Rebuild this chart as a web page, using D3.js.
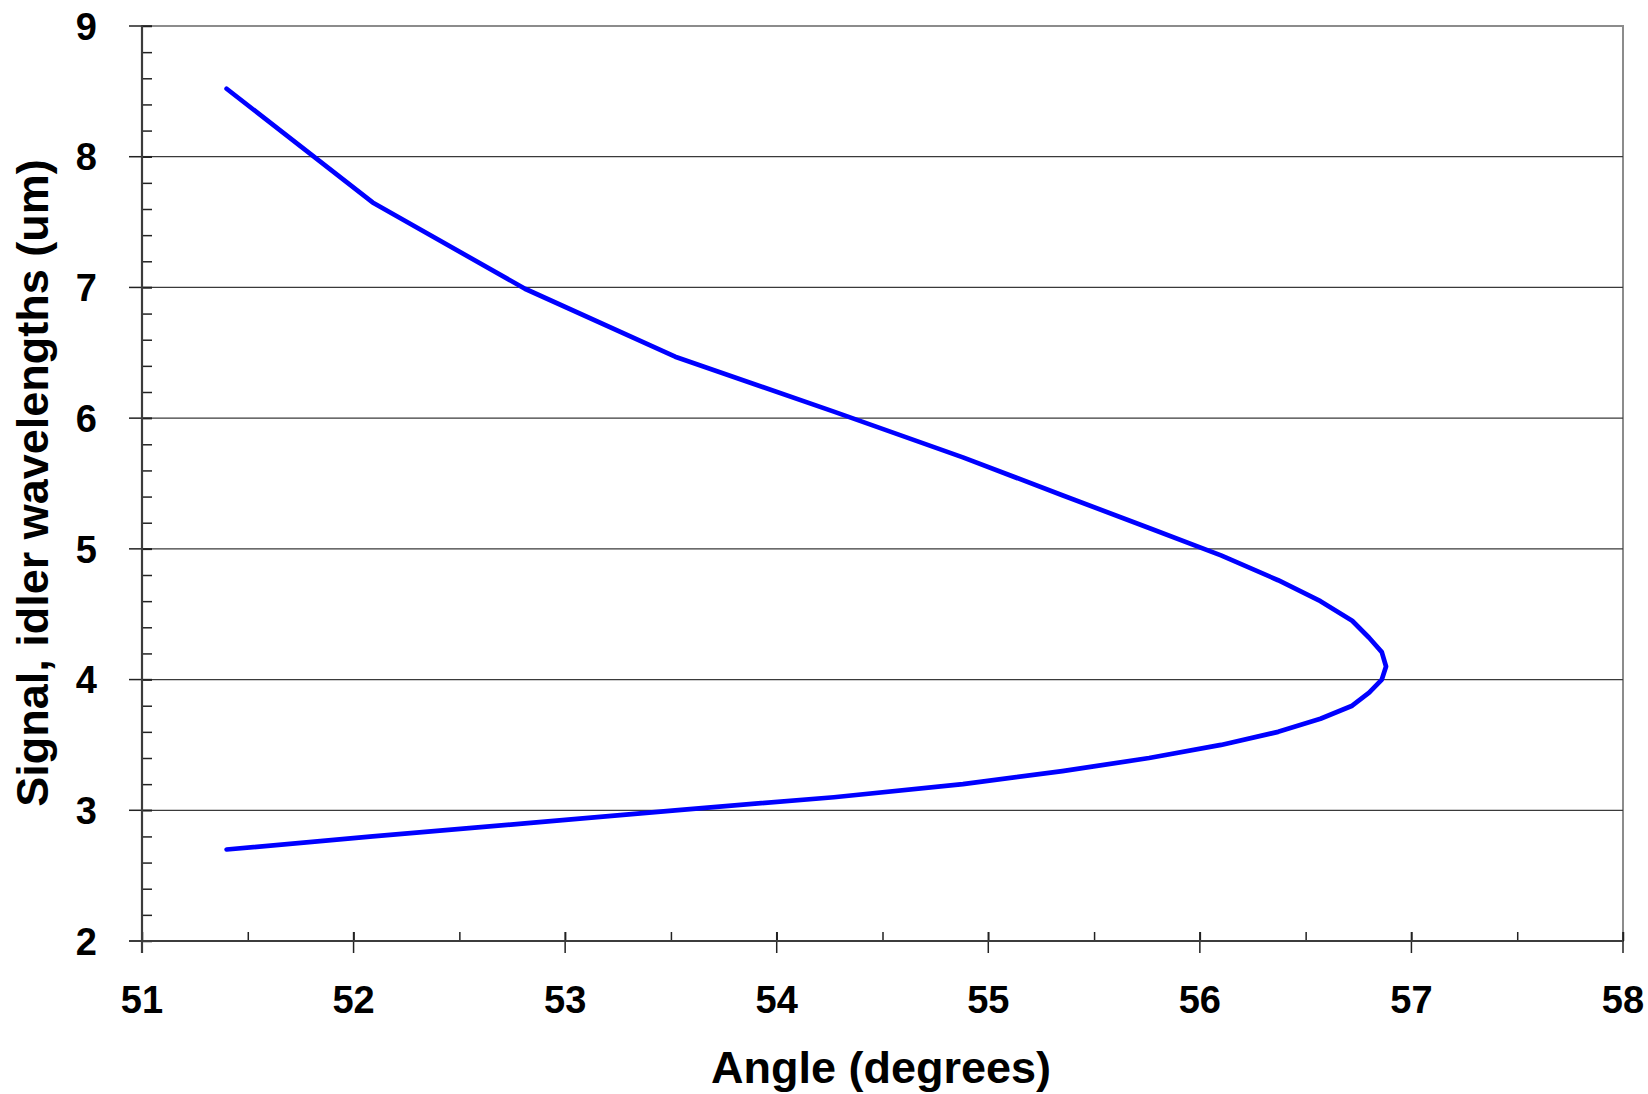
<!DOCTYPE html>
<html>
<head>
<meta charset="utf-8">
<script src="https://cdn.jsdelivr.net/npm/d3@7"></script>
<style>
  html, body { margin: 0; padding: 0; background: #fff; }
  svg { display: block; }
  text { font-family: "Liberation Sans", Arial, sans-serif; font-weight: bold; fill: #000; }
</style>
</head>
<body>
<svg id="chart" width="1648" height="1094"></svg>
<script>
// ---- data ----
const signalWavelengths = [2.7, 2.8, 2.9, 3.0, 3.1, 3.2, 3.3, 3.4, 3.5, 3.6, 3.7, 3.8, 3.9, 4.0, 4.1];
const idlerWavelengths  = [8.52, 7.65, 6.99, 6.47, 6.05, 5.70, 5.41, 5.16, 4.95, 4.76, 4.60, 4.45, 4.32, 4.21, 4.10];
const angles            = [51.40, 52.09, 52.81, 53.52, 54.27, 54.88, 55.35, 55.76, 56.10, 56.37, 56.57, 56.72, 56.80, 56.86, 56.88];
const xTicks = [51, 52, 53, 54, 55, 56, 57, 58];
const yTicks = [2, 3, 4, 5, 6, 7, 8, 9];
const xTitle = "Angle (degrees)";
const yTitle = "Signal, idler wavelengths (um)";

// ---- layout ----
const plot = { left: 142, right: 1623, top: 26, bottom: 941 };

const svg = d3.select("#chart");
const x = d3.scaleLinear().domain([51, 58]).range([plot.left, plot.right]);
const y = d3.scaleLinear().domain([2, 9]).range([plot.bottom, plot.top]);

// plot area border (top/right gray)
svg.append("rect")
  .attr("x", plot.left).attr("y", plot.top)
  .attr("width", plot.right - plot.left).attr("height", plot.bottom - plot.top)
  .attr("fill", "none").attr("stroke", "#8c8c8c").attr("stroke-width", 2);

// gridlines
svg.append("g").selectAll("line")
  .data(yTicks.filter(v => v !== 2 && v !== 9))
  .join("line")
  .attr("x1", plot.left).attr("x2", plot.right)
  .attr("y1", d => y(d)).attr("y2", d => y(d))
  .attr("stroke", "#3a3a3a").attr("stroke-width", 1.3);

// y minor ticks (inside)
const yMinor = d3.range(2, 9.001, 0.2).map(v => +v.toFixed(1));
svg.append("g")
  .attr("transform", `translate(${plot.left},0)`)
  .call(d3.axisLeft(y).tickValues(yMinor).tickSize(-10).tickFormat(""))
  .call(g => g.select(".domain").remove())
  .call(g => g.selectAll("line").attr("stroke", "#222").attr("stroke-width", 1.5));

// y major ticks (cross)
svg.append("g").selectAll("line")
  .data(yTicks)
  .join("line")
  .attr("x1", plot.left - 13).attr("x2", plot.left + 10)
  .attr("y1", d => y(d)).attr("y2", d => y(d))
  .attr("stroke", "#222").attr("stroke-width", 1.5);

// x minor ticks (inside)
const xMinor = d3.range(51, 58.001, 0.5).map(v => +v.toFixed(1));
svg.append("g")
  .attr("transform", `translate(0,${plot.bottom})`)
  .call(d3.axisBottom(x).tickValues(xMinor).tickSize(-9).tickFormat(""))
  .call(g => g.select(".domain").remove())
  .call(g => g.selectAll("line").attr("stroke", "#222").attr("stroke-width", 1.5));

// x major ticks (cross)
svg.append("g").selectAll("line")
  .data(xTicks)
  .join("line")
  .attr("x1", d => x(d)).attr("x2", d => x(d))
  .attr("y1", plot.bottom - 9).attr("y2", plot.bottom + 12)
  .attr("stroke", "#222").attr("stroke-width", 1.5);

// axis lines
svg.append("line")
  .attr("x1", plot.left).attr("x2", plot.left)
  .attr("y1", plot.top).attr("y2", plot.bottom + 12)
  .attr("stroke", "#3c3c3c").attr("stroke-width", 2.2);
svg.append("line")
  .attr("x1", plot.left - 13).attr("x2", plot.right)
  .attr("y1", plot.bottom).attr("y2", plot.bottom)
  .attr("stroke", "#3c3c3c").attr("stroke-width", 2.2);

// tick labels
svg.append("g").selectAll("text")
  .data(yTicks)
  .join("text")
  .attr("x", 97).attr("y", d => y(d))
  .attr("dy", "0.36em")
  .attr("text-anchor", "end")
  .style("font-size", "38px")
  .text(d => d);

svg.append("g").selectAll("text")
  .data(xTicks)
  .join("text")
  .attr("x", d => x(d)).attr("y", 1013)
  .attr("text-anchor", "middle")
  .style("font-size", "38px")
  .text(d => d);

// axis titles
svg.append("text")
  .attr("x", 881).attr("y", 1083)
  .attr("text-anchor", "middle")
  .style("font-size", "45px")
  .text(xTitle);

svg.append("text")
  .attr("transform", `translate(48,${483}) rotate(-90)`)
  .attr("text-anchor", "middle")
  .style("font-size", "45px")
  .text(yTitle);

// curve: idler branch (top) through degeneracy, then signal branch (bottom)
const upper = angles.map((a, i) => [a, idlerWavelengths[i]]);
const lower = angles.map((a, i) => [a, signalWavelengths[i]]).slice(0, -1).reverse();
const pts = upper.concat(lower);

svg.append("path")
  .datum(pts)
  .attr("fill", "none")
  .attr("stroke", "#0000ff")
  .attr("stroke-width", 4.7)
  .attr("stroke-linejoin", "round")
  .attr("stroke-linecap", "round")
  .attr("d", d3.line().x(d => x(d[0])).y(d => y(d[1])));
</script>
</body>
</html>
